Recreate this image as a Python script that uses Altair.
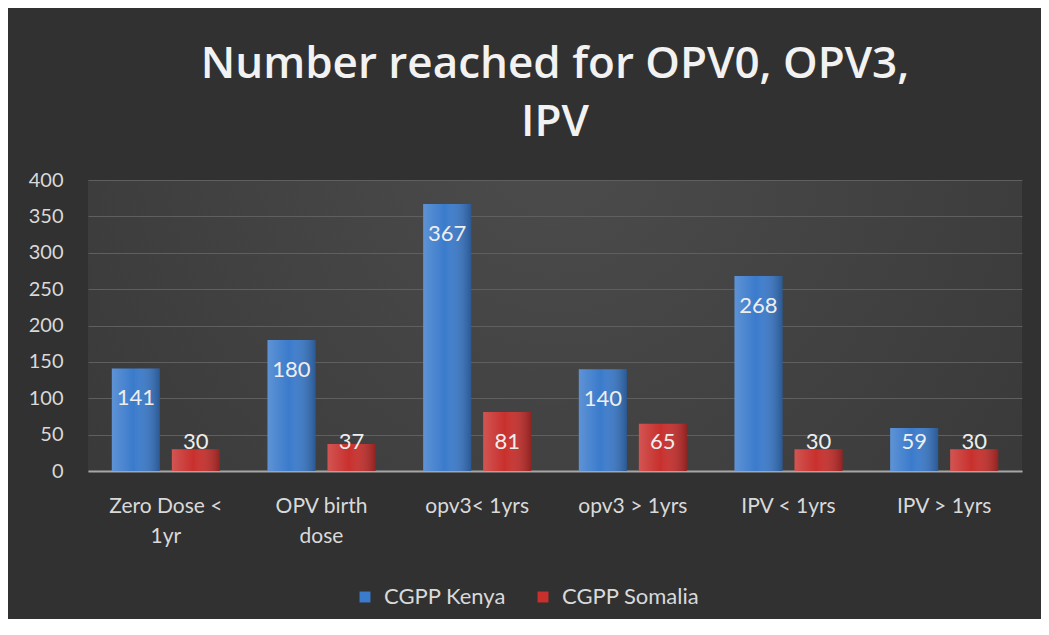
import altair as alt
import pandas as pd

categories = ["Zero Dose < 1yr", "OPV  birth dose", "opv3< 1yrs", "opv3 > 1yrs", "IPV < 1yrs", "IPV > 1yrs"]
label_lines = [["Zero Dose <", "1yr"], ["OPV  birth", "dose"], ["opv3< 1yrs"], ["opv3 > 1yrs"], ["IPV < 1yrs"], ["IPV > 1yrs"]]
series = ["CGPP Kenya", "CGPP Somalia"]
kenya = [141, 180, 367, 140, 268, 59]
somalia = [30, 37, 81, 65, 30, 30]
colors = ["#3b7bcc", "#c8302d"]
y_ticks = [0, 50, 100, 150, 200, 250, 300, 350, 400]

rows = []
for c, k, s in zip(categories, kenya, somalia):
    rows.append({"category": c, "series": series[0], "value": k})
    rows.append({"category": c, "series": series[1], "value": s})
df = pd.DataFrame(rows)

expr = "datum.label"
for c, lines in reversed(list(zip(categories, label_lines))):
    arr = "[" + ",".join("'" + l + "'" for l in lines) + "]"
    expr = f"datum.label == '{c}' ? {arr} : ({expr})"

x_enc = alt.X("category:N", sort=categories, title=None,
              scale=alt.Scale(paddingInner=0.306, paddingOuter=0.153),
              axis=alt.Axis(labelAngle=0, labelExpr=expr, labelFont="Lato", labelFontSize=21,
                            labelColor="#d9d9d9", labelPadding=24, labelLineHeight=30,
                            ticks=False, domainColor="#a6a6a6", domainWidth=2, grid=False,
                            labelBaseline="top"))
xo_enc = alt.XOffset("series:N", sort=series, scale=alt.Scale(paddingInner=0.2, paddingOuter=0))
y_scale = alt.Scale(domain=[0, 400], nice=False)
y_axis = alt.Axis(values=y_ticks, tickCount=9, labelFont="Lato", labelFontSize=20, labelColor="#d9d9d9",
                  labelPadding=25, ticks=False, domain=False, labelOverlap=False,
                  gridColor="#5f5f5f", gridWidth=1.2)
y_enc = alt.Y("value:Q", title=None, scale=y_scale, axis=y_axis)

base = alt.Chart(df)

bars = base.mark_bar().encode(
    x=x_enc, xOffset=xo_enc, y=y_enc,
    color=alt.Color("series:N", sort=series, scale=alt.Scale(domain=series, range=colors),
                    legend=alt.Legend(title=None, orient="none", direction="horizontal",
                                      legendX=266, legendY=406, symbolType="square", symbolSize=120,
                                      symbolStrokeWidth=0, labelFont="Lato", labelFontSize=22,
                                      labelColor="#d9d9d9", columnPadding=26, labelOffset=8)),
)

shade = base.mark_bar(
    fill=alt.Gradient(gradient="linear", x1=0, x2=1, y1=0, y2=0,
                      stops=[alt.GradientStop(offset=0, color="rgba(255,255,255,0.18)"),
                             alt.GradientStop(offset=0.45, color="rgba(255,255,255,0.0)"),
                             alt.GradientStop(offset=1, color="rgba(0,0,0,0.28)")])
).encode(x=x_enc, xOffset=xo_enc, y=y_enc)

labels = base.mark_text(font="Lato", fontSize=22, color="#eeeeee", baseline="middle").encode(
    x=x_enc, xOffset=xo_enc,
    y=alt.Y("labelpos:Q", title=None, scale=y_scale, axis=y_axis),
    text=alt.Text("value:Q"),
).transform_calculate(labelpos="max(datum.value - 41, 40)")

chart = alt.layer(bars, shade, labels).properties(
    width=934, height=291,
    padding={"left": 80, "top": 172, "right": 19, "bottom": 148},
    autosize=alt.AutoSizeParams(type="none"),
    background="#313131",
    title=alt.TitleParams(text=["Number reached for OPV0, OPV3,", "IPV"], font="Open Sans",
                          fontWeight=600, fontSize=44, color="#f2f2f2", anchor="middle",
                          lineHeight=58, offset=25),
).configure_view(
    stroke=None,
    fill={"expr": "{gradient: 'radial', x1: 0.5, y1: 0.3, r1: 0, x2: 0.5, y2: 0.3, r2: 0.8, stops: [{offset: 0, color: '#4c4c4c'}, {offset: 1, color: '#343434'}]}"},
)

chart.save("out.html", embed_options={"renderer": "svg", "actions": False})
